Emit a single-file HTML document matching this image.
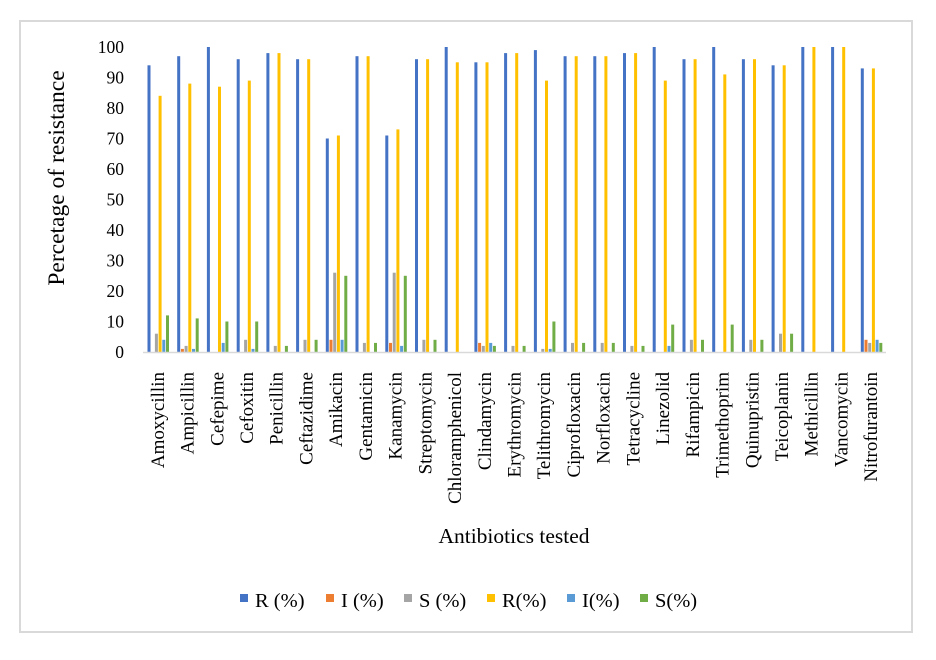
<!DOCTYPE html>
<html><head><meta charset="utf-8"><style>
body{margin:0;background:#fff}
svg text{font-family:"Liberation Serif",serif;fill:#000}
</style></head><body>
<svg id="c" width="936" height="655" xmlns="http://www.w3.org/2000/svg">
<rect x="0" y="0" width="936" height="655" fill="#fff"/>
<rect x="20" y="21" width="892" height="611" fill="none" stroke="#d9d9d9" stroke-width="2"/>
<g id="yt" font-size="17.5" text-anchor="end"></g>
<g id="bars"></g>
<line x1="143" y1="352.5" x2="886" y2="352.5" stroke="#d9d9d9" stroke-width="1.5"/>
<g id="xl" font-size="19"></g>
<text transform="translate(64,178) rotate(-90)" text-anchor="middle" font-size="23.5">Percetage of resistance</text>
<text x="514" y="543" text-anchor="middle" font-size="21.5">Antibiotics tested</text>
<g font-size="20.5">
<rect x="240" y="594" width="8" height="8" fill="#4472c4"/><text x="255" y="607">R (%)</text>
<rect x="326" y="594" width="8" height="8" fill="#ed7d31"/><text x="341" y="607">I (%)</text>
<rect x="404" y="594" width="8" height="8" fill="#a5a5a5"/><text x="419" y="607">S (%)</text>
<rect x="487" y="594" width="8" height="8" fill="#ffc000"/><text x="502" y="607">R(%)</text>
<rect x="567" y="594" width="8" height="8" fill="#5b9bd5"/><text x="582" y="607">I(%)</text>
<rect x="640" y="594" width="8" height="8" fill="#70ad47"/><text x="655" y="607">S(%)</text>
</g>
</svg>
<script>
var d=[["Amoxycillin",94,0,6,84,4,12],["Ampicillin",97,1,2,88,1,11],["Cefepime",100,0,0,87,3,10],["Cefoxitin",96,0,4,89,1,10],["Penicillin",98,0,2,98,0,2],["Ceftazidime",96,0,4,96,0,4],["Amikacin",70,4,26,71,4,25],["Gentamicin",97,0,3,97,0,3],["Kanamycin",71,3,26,73,2,25],["Streptomycin",96,0,4,96,0,4],["Chloramphenicol",100,0,0,95,0,0],["Clindamycin",95,3,2,95,3,2],["Erythromycin",98,0,2,98,0,2],["Telithromycin",99,0,1,89,1,10],["Ciprofloxacin",97,0,3,97,0,3],["Norfloxacin",97,0,3,97,0,3],["Tetracycline",98,0,2,98,0,2],["Linezolid",100,0,0,89,2,9],["Rifampicin",96,0,4,96,0,4],["Trimethoprim",100,0,0,91,0,9],["Quinupristin",96,0,4,96,0,4],["Teicoplanin",94,0,6,94,0,6],["Methicillin",100,0,0,100,0,0],["Vancomycin",100,0,0,100,0,0],["Nitrofurantoin",93,4,3,93,4,3]];
var col=["#4472c4","#ed7d31","#a5a5a5","#ffc000","#5b9bd5","#70ad47"];
var y0=352,sc=3.05,x0=143,w=29.72,s="",t="",l="";
for(var v=0;v<=100;v+=10){t+='<text x="124" y="'+(y0-v*sc+6)+'">'+v+'</text>';}
d.forEach(function(r,i){var cx=x0+w*i;
for(var k=0;k<6;k++){var h=r[k+1]*sc;if(h>0)s+='<rect x="'+(cx+4.5+k*3.7).toFixed(1)+'" y="'+(y0-h).toFixed(1)+'" width="3" height="'+h.toFixed(1)+'" fill="'+col[k]+'"/>';}
var c=cx+w/2;l+='<text transform="translate('+(c+6).toFixed(1)+',372) rotate(-90)" text-anchor="end">'+r[0]+'</text>';});
document.getElementById("yt").innerHTML=t;document.getElementById("bars").innerHTML=s;document.getElementById("xl").innerHTML=l;
</script>
</body></html>
